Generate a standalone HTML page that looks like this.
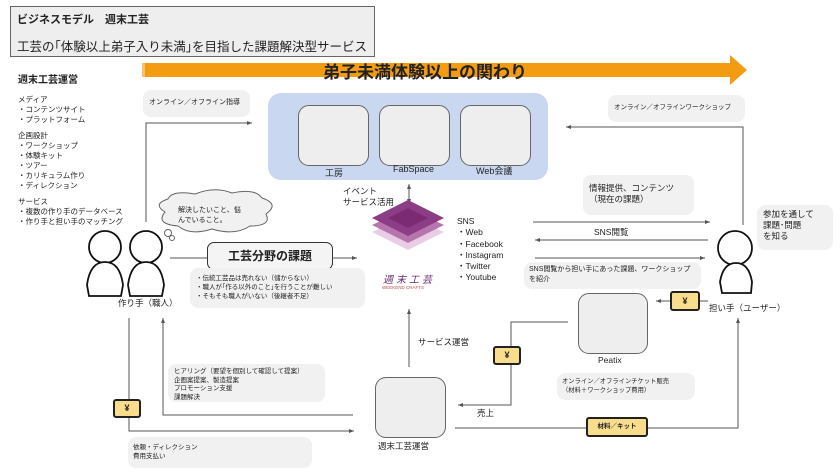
<!DOCTYPE html><html><head><meta charset="utf-8"><style>
body{margin:0;width:840px;height:473px;background:#fff;position:relative;overflow:hidden;font-family:"Liberation Sans","Noto Sans CJK JP",sans-serif;color:#222}
.a{position:absolute}
.g{position:absolute;background:#f1f1f1;border-radius:8px;font-size:7px;line-height:10px;padding:4px 6px;box-sizing:border-box}
.rb{position:absolute;background:#eee;border:1.3px solid #666;border-radius:11px;box-sizing:border-box}
.y{position:absolute;background:#f8dd8c;border:2px solid #222;border-radius:3px;box-sizing:border-box;font-size:9px;text-align:center;font-weight:bold}
.s{font-size:7.5px;line-height:10px}
</style></head><body>
<svg class="a" style="left:0;top:0" width="840" height="473">
<defs><marker id="m" markerWidth="6" markerHeight="6" refX="5" refY="3" orient="auto"><path d="M0,1 L5,3 L0,5z" fill="#555"/></marker></defs>
<rect x="142" y="63" width="592" height="14" fill="#f39c12"/>
<rect x="142" y="63" width="3" height="14" fill="#f7c36a"/>
<polygon points="730,55 747,70 730,85" fill="#f39c12"/>
<g stroke="#555" stroke-width="1" fill="none">
<polyline points="146,222 146,123 252,123" marker-end="url(#m)"/>
<polyline points="743,225 743,127 566,127" marker-end="url(#m)"/>
<line x1="409" y1="195" x2="409" y2="184" marker-end="url(#m)"/>
<line x1="409" y1="192" x2="409" y2="204" marker-end="url(#m)"/>
<line x1="533" y1="222" x2="710" y2="222" marker-end="url(#m)"/>
<line x1="708" y1="240" x2="535" y2="240" marker-end="url(#m)"/>
<line x1="535" y1="258" x2="705" y2="258" marker-end="url(#m)"/>
<line x1="170" y1="258" x2="207" y2="258"/>
<line x1="333" y1="258" x2="357" y2="258" marker-end="url(#m)"/>
<polyline points="129,318 129,431 354,431" marker-end="url(#m)"/>
<polyline points="353,415 163,415 163,318" marker-end="url(#m)"/>
<line x1="409" y1="367" x2="409" y2="309" marker-end="url(#m)"/>
<polyline points="568,322 511,322 511,405 458,405" marker-end="url(#m)"/>
<line x1="670" y1="301" x2="656" y2="301" marker-end="url(#m)"/>
<line x1="700" y1="301" x2="708" y2="301"/>
<polyline points="455,428 738,428 738,318" marker-end="url(#m)"/>
</g>
<g stroke="#111" stroke-width="1.8" fill="#fff">
<circle cx="105" cy="247" r="16"/><path d="M89,296 L87,285 Q90,262 105,262 Q120,262 123,285 L121,296Z"/>
<circle cx="146" cy="247" r="16"/><path d="M130,296 L128,285 Q131,262 146,262 Q161,262 164,285 L162,296Z"/>
<circle cx="735" cy="248" r="17"/><path d="M722,293 L720,282 Q723,263 736,263 Q749,263 752,282 L751,293Z"/>
</g>
<path d="M165,212 Q152,204 168,199 Q172,190 195,194 Q215,186 232,193 Q255,188 262,198 Q280,204 266,214 Q272,226 250,226 Q235,236 212,229 Q190,236 178,226 Q155,224 165,212Z" fill="#f1f1f1" stroke="#666"/>
<circle cx="168" cy="233" r="3.5" fill="#fff" stroke="#666"/><circle cx="172" cy="238" r="2.5" fill="#fff" stroke="#666"/>
<polygon points="408,215 444,232 408,250 372,232" fill="#e8cde5"/>
<polygon points="408,208 444,225 408,243 372,225" fill="#b775ae"/>
<polygon points="408,200 444,218 408,236 372,218" fill="#8c3d85"/>
<polygon points="408,208 428,218 408,228 388,218" fill="#7a2b74"/>
</svg>
<div class="a" style="left:10px;top:6px;width:365px;height:51px;background:#eee;border:1.3px solid #666;box-sizing:border-box"></div>
<div class="a" style="left:17px;top:11px;font-size:11px;font-weight:bold">ビジネスモデル　週末工芸</div>
<div class="a" style="left:17px;top:36px;font-size:12.5px">工芸の｢体験以上弟子入り未満｣を目指した課題解決型サービス</div>
<div class="a" style="left:323px;top:58px;font-size:17px;font-weight:bold">弟子未満体験以上の関わり</div>
<div class="a" style="left:18px;top:71px;font-size:10px;font-weight:bold">週末工芸運営</div>
<div class="a s" style="left:18px;top:95px">メディア<br>・コンテンツサイト<br>・プラットフォーム<br><div style="height:6px"></div>企画設計<br>・ワークショップ<br>・体験キット<br>・ツアー<br>・カリキュラム作り<br>・ディレクション<br><div style="height:6px"></div>サービス<br>・複数の作り手のデータベース<br>・作り手と担い手のマッチング</div>
<div class="g" style="left:143px;top:90px;width:107px;height:27px;padding-top:8px">オンライン／オフライン指導</div>
<div class="a" style="left:268px;top:93px;width:280px;height:87px;background:#c9d8f0;border-radius:13px"></div>
<div class="rb" style="left:298px;top:105px;width:71px;height:61px"></div>
<div class="rb" style="left:379px;top:105px;width:71px;height:61px"></div>
<div class="rb" style="left:460px;top:105px;width:71px;height:61px"></div>
<div class="a" style="left:325px;top:166px;font-size:9px">工房</div>
<div class="a" style="left:393px;top:164px;font-size:9px">FabSpace</div>
<div class="a" style="left:476px;top:164px;font-size:9px">Web会議</div>
<div class="g" style="left:608px;top:95px;width:137px;height:27px;padding-top:8px;font-size:6.5px">オンライン／オフラインワークショップ</div>
<div class="a" style="left:343px;top:186px;font-size:8.5px;line-height:11px">イベント<br>サービス活用</div>
<div class="a" style="left:383px;top:271px;font-size:10px;font-style:italic;color:#6a2b68;letter-spacing:3px">週末工芸</div>
<div class="a" style="left:382px;top:285px;font-size:4.5px;color:#c0504d">WEEKEND CRAFTS</div>
<div class="a" style="left:457px;top:216px;font-size:8.5px;line-height:11.3px">SNS<br>・Web<br>・Facebook<br>・Instagram<br>・Twitter<br>・Youtube</div>
<div class="g" style="left:583px;top:175px;width:111px;height:40px;font-size:8.5px;line-height:11px;padding-top:8px">情報提供、コンテンツ<br>（現在の課題）</div>
<div class="a" style="left:594px;top:226px;font-size:8.5px">SNS閲覧</div>
<div class="g" style="left:524px;top:262px;width:177px;height:27px;padding:3px 5px">SNS閲覧から担い手にあった課題、ワークショップを紹介</div>
<div class="g" style="left:757px;top:205px;width:76px;height:45px;font-size:8.5px;line-height:11px">参加を通して<br>課題･問題<br>を知る</div>
<div class="a" style="left:709px;top:302px;font-size:8.5px">担い手（ユーザー）</div>
<div class="a" style="left:178px;top:206px;font-size:7px;line-height:9.5px">解決したいこと、悩<br>んでいること。</div>
<div class="a" style="left:207px;top:242px;width:126px;height:28px;background:#f4f4f4;border:1.3px solid #333;border-radius:7px;box-sizing:border-box;font-size:12px;font-weight:bold;text-align:center;line-height:26px">工芸分野の課題</div>
<div class="g" style="left:190px;top:268px;width:175px;height:40px;font-size:6.5px;line-height:9px;padding-top:6px">・伝統工芸品は売れない（儲からない）<br>・職人が｢作る以外のこと｣を行うことが難しい<br>・そもそも職人がいない（後継者不足）</div>
<div class="a" style="left:118px;top:297px;font-size:8.5px">作り手（職人）</div>
<div class="g" style="left:168px;top:364px;width:157px;height:38px;font-size:6.5px;line-height:8.5px;padding-top:4px">ヒアリング（要望を個別して確認して提案）<br>企画案提案、製造提案<br>プロモーション支援<br>課題解決</div>
<div class="y" style="left:113px;top:399px;width:28px;height:19px;line-height:15px">¥</div>
<div class="g" style="left:128px;top:437px;width:184px;height:31px;font-size:6.5px;line-height:9px;padding:6px 5px">依頼・ディレクション<br>費用支払い</div>
<div class="rb" style="left:375px;top:377px;width:71px;height:61px"></div>
<div class="a" style="left:378px;top:440px;font-size:8.5px">週末工芸運営</div>
<div class="a" style="left:418px;top:336px;font-size:8.5px">サービス運営</div>
<div class="rb" style="left:578px;top:293px;width:70px;height:61px"></div>
<div class="a" style="left:598px;top:355px;font-size:8.5px">Peatix</div>
<div class="y" style="left:493px;top:346px;width:28px;height:19px;line-height:15px">¥</div>
<div class="y" style="left:670px;top:291px;width:30px;height:20px;line-height:16px">¥</div>
<div class="a" style="left:477px;top:407px;font-size:8.5px">売上</div>
<div class="g" style="left:557px;top:373px;width:138px;height:27px;font-size:6.3px;line-height:8.5px;padding:5px 5px">オンライン／オフラインチケット販売<br>（材料＋ワークショップ費用）</div>
<div class="y" style="left:586px;top:417px;width:62px;height:20px;line-height:16px;font-size:6.5px">材料／キット</div>
</body></html>
